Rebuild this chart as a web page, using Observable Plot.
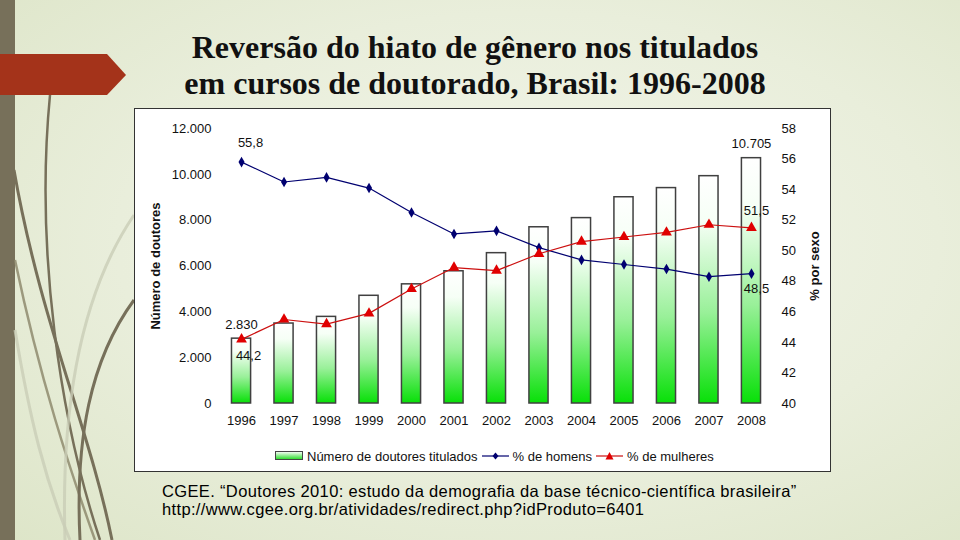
<!DOCTYPE html>
<html>
<head>
<meta charset="utf-8">
<script src="https://cdn.jsdelivr.net/npm/d3@7"></script>
<script src="https://cdn.jsdelivr.net/npm/@observablehq/plot@0.6"></script>
<style>
  html, body { margin:0; padding:0; }
  body {
    width:960px; height:540px; overflow:hidden; position:relative;
    background: radial-gradient(ellipse at 55% 45%, #f3f6ea 0%, #e9eedb 55%, #dde5c8 100%);
    font-family: "Liberation Sans", Arial, sans-serif;
  }
  #stripe { position:absolute; left:0; top:0; width:15px; height:540px; background:#77705a; }
  #deco { position:absolute; left:0; top:0; }
  #title {
    position:absolute; left:100px; width:750px; top:29px; text-align:center;
    font-family:"Liberation Serif","Times New Roman",serif; font-weight:bold;
    font-size:32px; line-height:36px; color:#111;
  }
  #box {
    position:absolute; left:134px; top:108px; width:695px; height:362px;
    background:#fff; border:1px solid #333;
  }
  #chart { position:absolute; left:0; top:0; }
  #legend {
    position:absolute; left:140px; top:339px; height:16px;
    font-size:13px; color:#111; display:flex; align-items:center; white-space:nowrap;
  }
  #legend svg { margin-right:3px; }
  #legend span { margin-right:4px; }
  #caption {
    position:absolute; left:162px; top:482px; font-size:16.5px; letter-spacing:0.35px; line-height:18px; color:#000;
  }
</style>
</head>
<body>
<div id="stripe"></div>
<svg id="deco" width="960" height="540">
  <path d="M14,170 C40,320 90,430 112,540" fill="none" stroke="#77705a" stroke-width="3"/>
  <path d="M50,95 C35,250 60,420 100,540" fill="none" stroke="#77705a" stroke-width="2.5"/>
  <path d="M15,260 C40,380 70,470 95,540" fill="none" stroke="#8a8468" stroke-width="2.5" opacity="0.8"/>
  <path d="M134,300 C90,360 75,440 80,540" fill="none" stroke="#77705a" stroke-width="3"/>
  <path d="M134,215 C90,280 60,380 65,540" fill="none" stroke="#c9cdb6" stroke-width="3" opacity="0.8"/>
  <path d="M15,330 C30,420 45,480 70,540" fill="none" stroke="#c9cdb6" stroke-width="3" opacity="0.8"/>
  <polygon points="0,54 107,54 126,75 107,95 0,95" fill="#a4331a"/>
</svg>
<div id="title">Reversão do hiato de gênero nos titulados<br>em cursos de doutorado, Brasil: 1996-2008</div>
<div id="box">
  <div id="chart"></div>
  <div id="legend">
    <svg width="29" height="10"><defs><linearGradient id="lg" x1="0" y1="0" x2="0" y2="1"><stop offset="0" stop-color="#fff"/><stop offset="1" stop-color="#22dd22"/></linearGradient></defs><rect x="0.5" y="0.5" width="27" height="8" fill="url(#lg)" stroke="#444"/></svg>
    <span>Número de doutores titulados</span>
    <svg width="28" height="10"><line x1="0" y1="5" x2="27" y2="5" stroke="#000070" stroke-width="1.2"/><path d="M13.5,1.5 L16.5,5 L13.5,8.5 L10.5,5 Z" fill="#000070"/></svg>
    <span>% de homens</span>
    <svg width="28" height="10"><line x1="0" y1="5" x2="27" y2="5" stroke="#cc1010" stroke-width="1.2"/><path d="M13.5,1 L17.5,8.5 L9.5,8.5 Z" fill="#e00000"/></svg>
    <span>% de mulheres</span>
  </div>
</div>
<div id="caption">CGEE. “Doutores 2010: estudo da demografia da base técnico-científica brasileira”<br>http://www.cgee.org.br/atividades/redirect.php?idProduto=6401</div>

<script>
// ---- data ----
const anos = ["1996","1997","1998","1999","2000","2001","2002","2003","2004","2005","2006","2007","2008"];
const doutores = [2830, 3490, 3780, 4700, 5200, 5770, 6560, 7690, 8090, 9000, 9400, 9920, 10705];
const homens = [55.8, 54.5, 54.8, 54.1, 52.5, 51.1, 51.3, 50.2, 49.4, 49.1, 48.8, 48.3, 48.5];
const mulheres = [44.2, 45.5, 45.2, 45.9, 47.5, 48.9, 48.7, 49.8, 50.6, 50.9, 51.2, 51.7, 51.5];
const leftTicks = [0, 2000, 4000, 6000, 8000, 10000, 12000];
const rightTicks = [40, 42, 44, 46, 48, 50, 52, 54, 56, 58];

// ---- helpers ----
const pMin = 40, pMax = 58, nMax = 12000;
const toY = p => (p - pMin) / (pMax - pMin) * nMax;
const fromY = v => v / nMax * (pMax - pMin) + pMin;
const fmtPt = v => d3.format(",")(v).replace(/,/g, ".");
const fmtDec = v => String(v).replace(".", ",");

const data = anos.map((a, i) => ({ano: a, n: doutores[i], h: homens[i], m: mulheres[i]}));
const first = data.filter(d => d.ano === anos[0]);
const last = data.filter(d => d.ano === anos[anos.length - 1]);

const defs = () => {
  const g = d3.create("svg:defs");
  const lg = g.append("linearGradient").attr("id", "gradBar")
    .attr("x1", 0).attr("y1", 0).attr("x2", 0).attr("y2", 1);
  lg.append("stop").attr("offset", 0).attr("stop-color", "#ffffff");
  lg.append("stop").attr("offset", 0.2).attr("stop-color", "#f6fff6");
  lg.append("stop").attr("offset", 0.6).attr("stop-color", "#99f099");
  lg.append("stop").attr("offset", 1).attr("stop-color", "#08e008");
  return g.node();
};

const chart = Plot.plot({
  width: 695, height: 330,
  marginLeft: 85, marginRight: 58, marginTop: 19, marginBottom: 36,
  style: {fontFamily: "'Liberation Sans', Arial, sans-serif", fontSize: "13px", color: "#111", background: "transparent", overflow: "visible"},
  x: {type: "band", domain: anos, paddingInner: 0.55, paddingOuter: 0.27, round: false},
  y: {domain: [0, nMax]},
  marks: [
    defs,
    Plot.barY(data, {x: "ano", y: "n", fill: "url(#gradBar)", stroke: "#404040", strokeWidth: 1.5}),
    Plot.axisX({tickSize: 0, tickPadding: 12, label: null}),
    Plot.axisY(leftTicks, {anchor: "left", tickSize: 0, tickPadding: 9, tickFormat: fmtPt, label: null}),
    Plot.axisY(rightTicks.map(toY), {anchor: "right", tickSize: 0, tickPadding: 9, tickFormat: v => Math.round(fromY(v)), label: null}),
    Plot.text(["Número de doutores"], {frameAnchor: "left", textAnchor: "middle", dx: -65, rotate: -90, fontWeight: "bold", fontSize: 13}),
    Plot.text(["% por sexo"], {frameAnchor: "right", textAnchor: "middle", dx: 42, rotate: -90, fontWeight: "bold", fontSize: 13}),
    Plot.lineY(data, {x: "ano", y: d => toY(d.h), stroke: "#000070", strokeWidth: 1.2}),
    Plot.dot(data, {x: "ano", y: d => toY(d.h), symbol: "diamond", r: 3.2, fill: "#000070"}),
    Plot.lineY(data, {x: "ano", y: d => toY(d.m), stroke: "#cc1010", strokeWidth: 1.2}),
    Plot.dot(data, {x: "ano", y: d => toY(d.m), symbol: "triangle", r: 4, fill: "#e00000"}),
    Plot.text(first, {x: "ano", y: d => toY(d.h), text: d => fmtDec(d.h), dx: 9, dy: -19, fill: "#111"}),
    Plot.text(first, {x: "ano", y: "n", text: d => fmtPt(d.n), dy: -14, fill: "#111"}),
    Plot.text(first, {x: "ano", y: d => toY(d.m), text: d => fmtDec(d.m), dx: 7, dy: 16, fill: "#111"}),
    Plot.text(last, {x: "ano", y: "n", text: d => fmtPt(d.n), dy: -14, fill: "#111"}),
    Plot.text(last, {x: "ano", y: d => toY(d.m), text: d => fmtDec(d.m), dx: 5, dy: -17, fill: "#111"}),
    Plot.text(last, {x: "ano", y: d => toY(d.h), text: d => fmtDec(d.h), dx: 5, dy: 15, fill: "#111"})
  ]
});
document.getElementById("chart").appendChild(chart);
</script>
</body>
</html>
